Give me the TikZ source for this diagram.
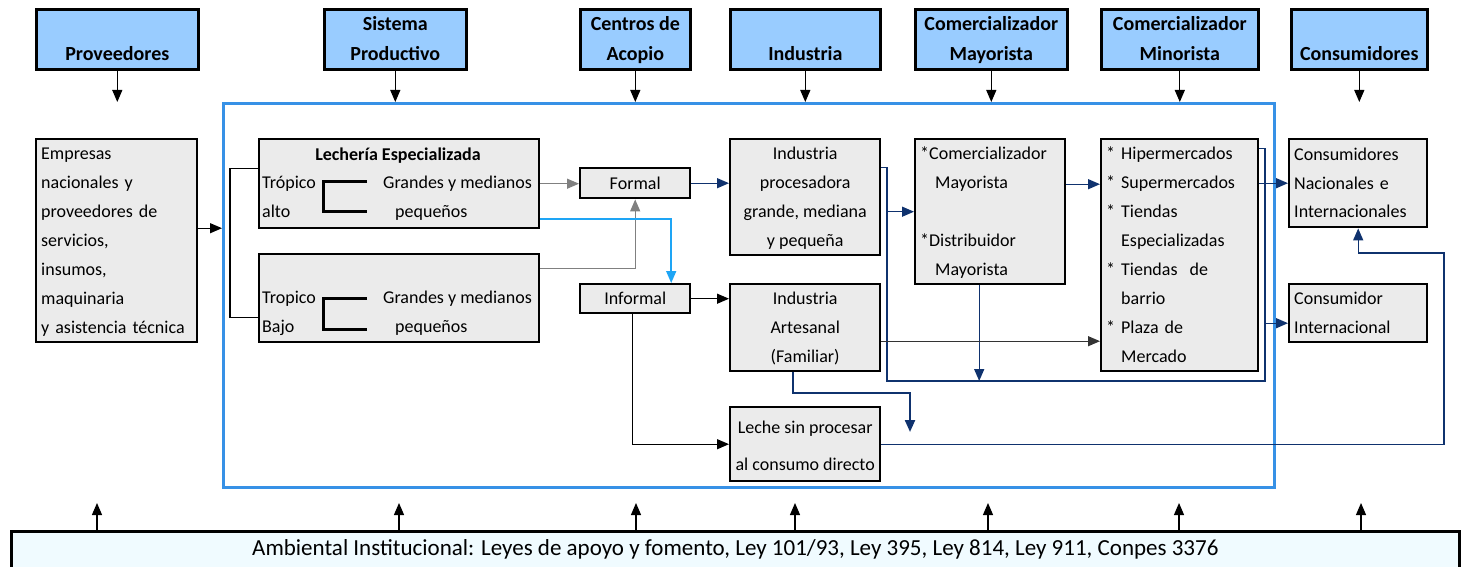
\documentclass[tikz,border=0pt]{standalone}
\usepackage{fontspec}
\setmainfont{Carlito}
\usetikzlibrary{arrows.meta}

\definecolor{hdrBlue}{RGB}{153,204,255}
\definecolor{boxGray}{RGB}{235,235,235}
\definecolor{frameBlue}{RGB}{55,145,230}
\definecolor{skyLine}{RGB}{30,165,245}
\definecolor{navyLine}{RGB}{15,50,110}
\definecolor{ambFill}{RGB}{240,251,255}

\newcommand{\hdrSty}[2]{\strut #1\\#2\strut}
\newcommand{\boxSty}{\fontsize{18}{29}\selectfont}
\newcommand{\indentSty}{\phantom{*\ }}
\newcommand{\starSty}{{*}}

\begin{document}
\begin{tikzpicture}[x=1pt, y=-1pt,
		hdr/.style={draw, line width=2.6pt, fill=hdrBlue, anchor=north west, inner sep=0pt, minimum height=59pt, align=center, font=\bfseries\fontsize{20}{30}\selectfont},
		box/.style={draw, line width=2.4pt, fill=boxGray, anchor=north west, inner xsep=5pt, inner ysep=0pt, font=\boxSty, execute at begin node=\strut, execute at end node=\strut},
		txt/.style={inner sep=0pt, font=\boxSty},
		brk/.style={line width=3pt},
		arr/.style={line width=1.2pt, -{Triangle[length=12pt, width=10pt]}},
		grayArr/.style={arr, draw=gray, -{Triangle[length=12pt, width=10pt, fill=gray]}},
		skyArr/.style={arr, line width=1.6pt, draw=skyLine},
		navy/.style={line width=1.4pt, draw=navyLine},
		navyArr/.style={navy, -{Triangle[length=12pt, width=10pt]}, navyLine}]

		\useasboundingbox (0,0) rectangle (1466,567);

		% frame
		\node[draw=frameBlue, line width=2.8pt, anchor=north west, minimum width=1051pt, minimum height=384pt, inner sep=0pt] (frame) at (222,102) {};

		% headers
		\node[hdr, minimum width=162pt] (prov) at (35,8) {\hdrSty{}{Proveedores}};
		\node[hdr, minimum width=142pt] (sis) at (323,8) {\hdrSty{Sistema}{Productivo}};
		\node[hdr, minimum width=110pt] (cen) at (579,8) {\hdrSty{Centros de}{Acopio}};
		\node[hdr, minimum width=150pt] (ind) at (729,8) {\hdrSty{}{Industria}};
		\node[hdr, minimum width=152pt] (cmay) at (914,8) {\hdrSty{Comercializador}{Mayorista}};
		\node[hdr, minimum width=157pt] (cmin) at (1100,8) {\hdrSty{Comercializador}{Minorista}};
		\node[hdr, minimum width=136pt] (con) at (1290,8) {\hdrSty{}{Consumidores}};

		\foreach \hd in {prov,sis,cen,ind,cmay,cmin,con}
			\draw[arr] (\hd.south) -- (\hd.south |- frame.north);

		% proveedores
		\node[box, minimum width=161pt, minimum height=203pt, text width=151pt, align=left] (emp) at (35,138) {Empresas\\nacionales y\\proveedores de\\servicios,\\insumos,\\maquinaria\\y asistencia técnica};
		\coordinate (empOut) at ([yshift=12.5pt]emp.east);
		\draw[arr] (empOut) -- (empOut -| frame.west);

		% sistema productivo
		\node[box, minimum width=280pt, minimum height=89pt] (lech) at (258,138) {};
		\node[txt, anchor=base, font=\bfseries\boxSty] (lechTitle) at (398,160) {Lechería Especializada};
		\node[txt, anchor=base west] (lechA) at (262,188) {Trópico};
		\node[txt, anchor=base west] (lechB) at (262,217) {alto};
		\node[txt, anchor=base west] (lechC) at (383,188) {Grandes y medianos};
		\node[txt, anchor=base west] (lechD) at (395,217) {pequeños};
		\draw[brk] (367,181) -- (323,181) -- (323,211) -- (367,211);

		\node[box, minimum width=280pt, minimum height=88pt] (tbaj) at (258,253) {};
		\node[txt, anchor=base west] (tbajA) at (262,303) {Tropico};
		\node[txt, anchor=base west] (tbajB) at (262,332) {Bajo};
		\node[txt, anchor=base west] (tbajC) at (383,303) {Grandes y medianos};
		\node[txt, anchor=base west] (tbajD) at (395,332) {pequeños};
		\draw[brk] (367,298) -- (323,298) -- (323,329) -- (367,329);

		\coordinate (lechTop) at ([yshift=15.5pt]lech.west);
		\coordinate (tbajIn) at ([yshift=-19pt]tbaj.west);
		\draw[line width=1.4pt] (lechTop) -- ++(-28,0) |- (tbajIn);

		% centros de acopio
		\node[box, minimum width=110pt, minimum height=30pt] (form) at (579,167) {Formal};
		\node[box, minimum width=110pt, minimum height=29pt] (inf) at (579,283) {Informal};

		\draw[grayArr] (lech.east) -- (lech.east -| form.west);
		\coordinate (tbajOut) at ([yshift=30pt]tbaj.east);
		\draw[grayArr] (tbajOut) -| (form.south);
		\coordinate (lechOut) at ([yshift=-35.5pt]lech.east);
		\coordinate (infIn) at ([xshift=36pt]inf.north);
		\draw[skyArr] (lechOut) -| (infIn);

		% industria
		\node[box, minimum width=150pt, minimum height=115pt, text width=140pt, align=flush center] (ip) at (729,138) {Industria\\procesadora\\grande, mediana\\y pequeña};
		\node[box, minimum width=150pt, minimum height=87pt, text width=140pt, align=flush center] (ia) at (729,283) {Industria\\Artesanal\\(Familiar)};
		\node[box, minimum width=150pt, minimum height=72pt, inner xsep=1pt, text width=148pt, align=flush center, font=\fontsize{18}{37}\selectfont] (lsp) at (729,406) {Leche sin procesar\\al consumo directo};

		\draw[navyArr] (form.east) -- (form.east -| ip.west);
		\draw[arr] (inf.east) -- (inf.east -| ia.west);
		\coordinate (infOut) at ([xshift=-3pt]inf.south);
		\draw[arr] (infOut) |- (lsp.west);

		% comercializadores
		\node[box, minimum width=150pt, minimum height=145pt, text width=140pt, align=left] (cmay) at (914,138) {\starSty Comercializador\\\indentSty Mayorista\\\mbox{}\\\starSty Distribuidor\\\indentSty Mayorista};
		\node[box, minimum width=157pt, minimum height=232pt, text width=147pt, align=left] (cmin) at (1100,138) {\starSty\ Hipermercados\\\starSty\ Supermercados\\\starSty\ Tiendas\\\indentSty Especializadas\\\starSty\ Tiendas\ \ de\\\indentSty barrio\\\starSty\ Plaza de\\\indentSty Mercado};

		% consumidores
		\node[box, minimum width=138pt, minimum height=88pt, text width=128pt, align=left] (cnac) at (1288,138) {Consumidores\\Nacionales e\\Internacionales};
		\node[box, minimum width=138pt, minimum height=58pt, text width=128pt, align=left] (cint) at (1288,283) {Consumidor\\Internacional};

		% flujos
		\coordinate (ipOut) at ([yshift=29.5pt]ip.east);
		\coordinate (jL) at (887,381);
		\coordinate (jR) at (1265,381);
		\coordinate (cminTop) at ([yshift=107pt]cmin.east);
		\draw[navy] (ipOut) -| (jL) -- (jR) |- (cminTop);
		\draw[navyArr] (jL |- cmay.west) -- (cmay.west);
		\coordinate (cmayOut) at ([xshift=-11pt]cmay.south);
		\draw[navyArr] (cmayOut) -- (cmayOut |- jL);
		\coordinate (cmayR) at ([yshift=27.5pt]cmay.east);
		\draw[navyArr] (cmayR) -- (cmayR -| cmin.west);
		\draw[navyArr] (cnac.west -| cmin.east) -- (cnac.west);
		\coordinate (cintIn) at ([yshift=-10pt]cint.west);
		\draw[navyArr] (cintIn -| jR) -- (cintIn);

		\coordinate (iaOut) at ([yshift=-13.5pt]ia.east);
		\draw[arr, draw=black!80] (iaOut) -- (iaOut -| cmin.west);
		\coordinate (iaDown) at ([xshift=-12pt]ia.south);
		\coordinate (iaBend) at (910,393);
		\coordinate (iaEnd) at (910,432);
		\draw[navyArr, line width=2.2pt] (iaDown) |- (iaBend) -- (iaEnd);

		\coordinate (lspR) at (1444,253);
		\draw[navyArr] (lsp.east) -| (lspR) -| (cnac.south);

		% ambiental institucional
		\node[draw, line width=2.6pt, fill=ambFill, anchor=north west, minimum width=1448pt, minimum height=37pt, inner sep=0pt, font=\fontsize{23}{28}\selectfont] (amb) at (10,530) {Ambiental Institucional: Leyes de apoyo y fomento, Ley 101/93, Ley 395, Ley 814, Ley 911, Conpes 3376};
		\foreach \xx in {97,399,636,795,988,1179,1361}
			\draw[arr] (amb.north -| \xx,0) -- (\xx,503);

\end{tikzpicture}
\end{document}
